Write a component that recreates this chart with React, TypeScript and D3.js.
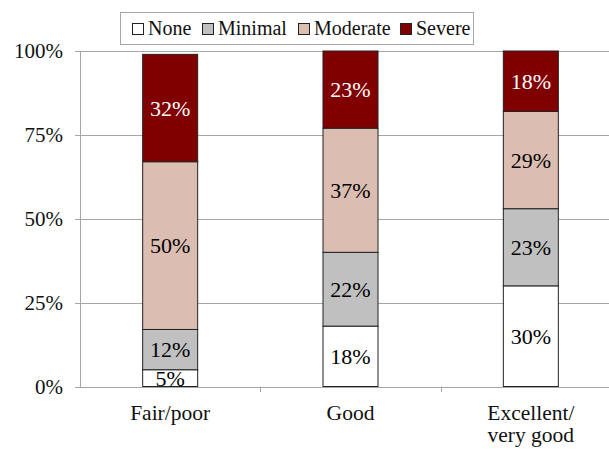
import React from "react";
import * as d3 from "d3";

const categories = ["Fair/poor", "Good", "Excellent/\nvery good"];
const seriesNames = ["None", "Minimal", "Moderate", "Severe"];
const seriesColors = ["#ffffff", "#c0c0c0", "#dbbdb2", "#800000"];
const labelColors = ["#000", "#000", "#000", "#fff"];
const noneVals = [5, 18, 30];
const minimalVals = [12, 22, 23];
const moderateVals = [50, 37, 29];
const severeVals = [32, 23, 18];
const yTicks = [0, 25, 50, 75, 100];

const W = 609, H = 451;
const FONT = "Liberation Serif";
const ff = { fontFamily: FONT };

export default function App() {
  const x = d3.scaleBand<number>().domain([0, 1, 2]).range([80, 621]).padding(0);
  const y = d3.scaleLinear().domain([0, 100]).range([386.5, 51]);
  const barW = 55;
  const table = categories.map((c, i) => ({
    c,
    None: noneVals[i],
    Minimal: minimalVals[i],
    Moderate: moderateVals[i],
    Severe: severeVals[i],
  }));
  const stack = d3.stack<any>().keys(seriesNames)(table);
  const legendX = [132, 202, 298, 400];

  return (
    <svg width={W} height={H} fontFamily={FONT} style={{ position: "absolute", left: 0, top: 0, fontFamily: FONT }}>
      <style>{"svg text, svg tspan { font-family: 'Liberation Serif', serif !important; }"}</style>
      <rect width={W} height={H} fill="#fff" />
      {yTicks.map((t) => (
        <g key={t}>
          <line x1={75} x2={W} y1={Math.round(y(t)) + 0.5} y2={Math.round(y(t)) + 0.5} stroke="#a6a6a6" strokeWidth={1} />
          <text x={63} y={y(t) + 7} textAnchor="end" fontSize={21} fill="#111" fontFamily={FONT} style={ff}>{t + "%"}</text>
        </g>
      ))}
      <line x1={80.5} x2={80.5} y1={51} y2={387} stroke="#a6a6a6" />
      {[1, 2].map((i) => (
        <line key={i} x1={Math.round(x(i)!) + 0.5} x2={Math.round(x(i)!) + 0.5} y1={386.5} y2={392} stroke="#a6a6a6" />
      ))}
      {stack.map((s, si) =>
        s.map((d, i) => {
          const cx = x(i)! + x.bandwidth() / 2;
          const y0 = y(d[0]);
          const y1 = y(d[1]);
          return (
            <g key={si + "-" + i}>
              <rect x={cx - barW / 2} y={y1} width={barW} height={y0 - y1} fill={seriesColors[si]} stroke="#222" strokeWidth={1} />
              <text x={cx} y={(y0 + y1) / 2 + 7.5} textAnchor="middle" fontSize={22} fill={labelColors[si]} fontFamily={FONT} style={ff}>
                {(d[1] - d[0]) + "%"}
              </text>
            </g>
          );
        })
      )}
      {categories.map((c, i) => {
        const cx = x(i)! + x.bandwidth() / 2;
        const lines = c.split("\n");
        return (
          <text key={c} x={cx} y={419.5} textAnchor="middle" fontSize={21.5} fill="#111" fontFamily={FONT} style={ff}>
            {lines.map((l, li) => (
              <tspan key={li} x={cx} dy={li === 0 ? 0 : 22}>{l}</tspan>
            ))}
          </text>
        );
      })}
      <rect x={120.5} y={12.5} width={353} height={32} fill="#fff" stroke="#a6a6a6" />
      {seriesNames.map((n, i) => (
        <g key={n}>
          <rect x={legendX[i] + 0.5} y={23.5} width={11} height={11} fill={seriesColors[i]} stroke="#222" />
          <text x={legendX[i] + 16} y={35} fontSize={20} fill="#111" fontFamily={FONT} style={ff}>{n}</text>
        </g>
      ))}
    </svg>
  );
}
